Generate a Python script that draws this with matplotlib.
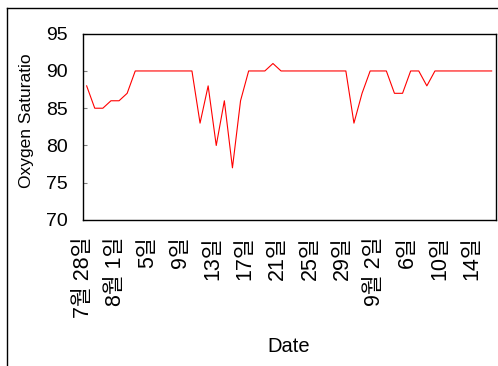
import matplotlib
matplotlib.use("Agg")
import matplotlib.pyplot as plt
import matplotlib.transforms as mtransforms
from matplotlib.lines import Line2D
import numpy as np

# daily oxygen saturation, 7/28 .. 9/16
values = [88, 85, 85, 86, 86, 87,
          90, 90, 90, 90, 90, 90, 90, 90,
          83, 88, 80, 86, 77, 86,
          90, 90, 90, 91,
          90, 90, 90, 90, 90, 90, 90, 90, 90,
          83, 87, 90, 90, 90, 87, 87, 90, 90, 88,
          90, 90, 90, 90, 90, 90, 90, 90]
tick_labels = ['7월 28일', '8월 1일', '5일', '9일', '13일', '17일', '21일',
               '25일', '29일', '9월 2일', '6일', '10일', '14일']
y_ticks = [70, 75, 80, 85, 90, 95]

fams = ['Liberation Sans', 'Noto Sans CJK KR', 'DejaVu Sans']
plt.rcParams['font.family'] = fams

fig = plt.figure(figsize=(4.98, 3.66), dpi=100)
ax = fig.add_axes([83/498, 1-220/366, (495.7-83)/498, (220-33.7)/366])

x = np.arange(len(values))
ax.plot(x, values, color='#ff0000', linewidth=0.8)

ax.set_xlim(-0.45, len(values) - 0.5)
ax.set_ylim(70, 95)
ax.set_yticks(y_ticks)
ax.tick_params(axis='y', direction='in', length=3, color='#808080',
               labelsize=14, pad=11)

ax.set_xticks(x[::4])
ax.set_xticklabels(tick_labels, rotation=90, fontsize=15.5, va='top', ha='center')
ax.tick_params(axis='x', length=0, pad=12)
offset = mtransforms.ScaledTranslation(-3.5/100, 0, fig.dpi_scale_trans)
for lbl in ax.get_xticklabels():
    lbl.set_transform(lbl.get_transform() + offset)

for s in ax.spines.values():
    s.set_linewidth(1.0)
    s.set_color('black')

fig.text(26.7/498, 1-120.5/366, 'Oxygen Saturatio', rotation=90,
         ha='center', va='center', fontsize=12.5)
fig.text(289/498, 1-346/366, 'Date', ha='center', va='center', fontsize=14.5)

# outer frame (only left and top edges visible)
fig.add_artist(Line2D([7/498, 7/498], [0, 1-8/366], color='black', linewidth=1.0))
fig.add_artist(Line2D([7/498, 1], [1-8/366, 1-8/366], color='black', linewidth=1.0))

fig.savefig('out.png', dpi=100)
